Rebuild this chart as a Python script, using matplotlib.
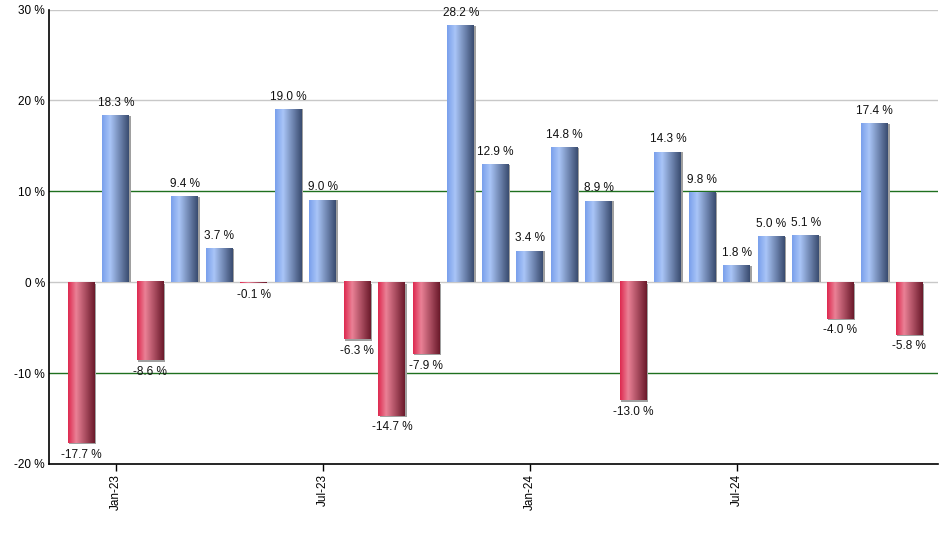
import matplotlib
matplotlib.use("Agg")
import matplotlib.pyplot as plt
import numpy as np
from matplotlib.colors import LinearSegmentedColormap

months = ["Dec-22", "Jan-23", "Feb-23", "Mar-23", "Apr-23", "May-23", "Jun-23", "Jul-23",
          "Aug-23", "Sep-23", "Oct-23", "Nov-23", "Dec-23", "Jan-24", "Feb-24", "Mar-24",
          "Apr-24", "May-24", "Jun-24", "Jul-24", "Aug-24", "Sep-24", "Oct-24", "Nov-24", "Dec-24"]
values = [-17.7, 18.3, -8.6, 9.4, 3.7, -0.1, 19.0, 9.0, -6.3, -14.7, -7.9, 28.2, 12.9,
          3.4, 14.8, 8.9, -13.0, 14.3, 9.8, 1.8, 5.0, 5.1, -4.0, 17.4, -5.8]
tick_labels = ["Jan-23", "Jul-23", "Jan-24", "Jul-24"]
y_ticks = [-20, -10, 0, 10, 20, 30]

plt.rcParams['font.family'] = ['Liberation Sans', 'DejaVu Sans']

blue_cmap = LinearSegmentedColormap.from_list(
    "blue", [(0.0, "#7aa0ec"), (0.3, "#a9c5f7"), (1.0, "#3a4c70")])
red_cmap = LinearSegmentedColormap.from_list(
    "red", [(0.0, "#de2a50"), (0.3, "#ea8196"), (1.0, "#6b1a2b")])

fig = plt.figure(figsize=(9.4, 5.5), dpi=100)
ax = fig.add_axes([49 / 940, (550 - 464) / 550, (938 - 49) / 940, (464 - 9.5) / 550])

x = np.arange(len(values))
w = 0.78
grad = np.linspace(0, 1, 64).reshape(1, -1)
fs = 8.5

for xi, v in zip(x, values):
    cmap = blue_cmap if v >= 0 else red_cmap
    lo, hi = (0, v) if v >= 0 else (v, 0)
    # shadow
    ax.bar(xi + 0.035, hi - lo, w, bottom=lo - (0.15 if v < 0 else 0),
           color="#a0a0a0", zorder=2, linewidth=0)
    ax.imshow(grad, extent=[xi - w / 2, xi + w / 2, lo, hi], aspect='auto',
              cmap=cmap, zorder=3, interpolation='bilinear')
    label = f"{v:.1f} %"
    if v >= 0:
        ax.annotate(label, (xi, v), xytext=(0, 5), textcoords="offset points",
                    ha="center", va="bottom", fontsize=fs, color="#111111", zorder=4)
    else:
        ax.annotate(label, (xi, v), xytext=(0, -4), textcoords="offset points",
                    ha="center", va="top", fontsize=fs, color="#111111", zorder=4)

for yv in [0, 20, 30]:
    ax.axhline(yv, color="#c8c8c8", linewidth=1, zorder=1)
for yv in [-10, 10]:
    ax.axhline(yv, color="#1f701f", linewidth=1, zorder=1)

ax.set_xlim(-0.94, 24.83)
ax.set_ylim(-20, 30)
ax.set_aspect('auto')

ax.set_yticks(y_ticks)
ax.set_yticklabels([f"{t} %" for t in y_ticks], fontsize=fs)
ax.tick_params(axis='y', length=0, pad=3)

tick_pos = [months.index(t) for t in tick_labels]
ax.set_xticks(tick_pos)
ax.set_xticklabels(tick_labels, rotation=90, fontsize=fs)
ax.tick_params(axis='x', length=5, width=1, direction='out', pad=2)

for s in ["top", "right"]:
    ax.spines[s].set_visible(False)
for s in ["left", "bottom"]:
    ax.spines[s].set_color("black")
    ax.spines[s].set_linewidth(1.2)
ax.spines["left"].set_zorder(5)
ax.spines["bottom"].set_zorder(5)

fig.savefig("out.png", dpi=100)
